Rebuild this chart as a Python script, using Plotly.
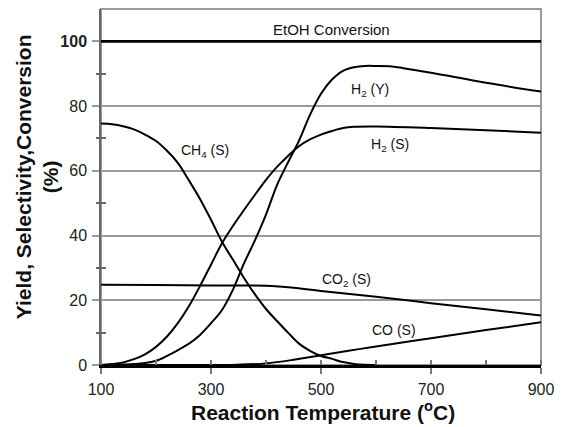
import plotly.graph_objects as go

# ---- data ----
t_etoh = [100, 900]
etoh = [100, 100]

t_ch4 = [100, 120, 140, 160, 180, 200, 220, 240, 260, 280, 300, 320, 340, 360, 380, 400, 420, 440,
         460, 480, 500, 520, 540, 560, 580, 600]
ch4 = [74.6, 74.4, 73.8, 72.8, 71.2, 69.2, 66.2, 62.4, 57.0, 51.3, 44.9, 38.1, 32.5, 26.9, 21.8, 17.3,
       13.6, 10.0, 6.6, 4.4, 2.8, 1.9, 0.9, 0.3, 0.05, 0.0]

t_h2s = [100, 120, 140, 160, 180, 200, 220, 240, 260, 280, 300, 320, 340, 360, 380, 400, 420, 440,
         460, 480, 500, 520, 540, 560, 600, 700, 800, 900]
h2s = [0, 0.3, 0.8, 1.8, 3.3, 5.6, 8.8, 13.0, 18.2, 24.4, 31.0, 37.6, 43.0, 47.9, 52.6, 57.2, 61.2, 64.6,
       67.6, 69.7, 71.2, 72.3, 73.2, 73.6, 73.7, 73.2, 72.5, 71.8]

t_h2y = [100, 120, 140, 160, 180, 200, 220, 240, 260, 280, 300, 320, 340, 360, 380, 400, 420, 440,
         460, 480, 500, 520, 540, 560, 580, 600, 625, 650, 700, 800, 900]
h2y = [0, 0.05, 0.15, 0.3, 0.6, 1.3, 2.8, 4.6, 6.6, 9.3, 12.9, 17.0, 23.3, 31.4, 38.6, 46.5, 55.6, 62.6,
       69.3, 77.3, 83.8, 88.2, 90.9, 92.0, 92.4, 92.4, 92.3, 91.7, 90.3, 87.2, 84.5]

t_co2 = [100, 200, 300, 400, 450, 500, 600, 700, 800, 900]
co2 = [24.8, 24.7, 24.6, 24.5, 23.9, 22.9, 21.1, 19.1, 17.2, 15.3]

t_co = [100, 300, 350, 400, 450, 500, 550, 600, 700, 800, 900]
co = [0, 0, 0.1, 0.5, 1.6, 3.0, 4.4, 5.7, 8.3, 10.8, 13.2]

x_ticks = [100, 300, 500, 700, 900]
y_ticks = [0, 20, 40, 60, 80, 100]
y_ticktext = ["0", "20", "40", "60", "80", "<b>100</b>"]
y_minor = [10, 30, 50, 70, 90]

labels = [
    ("EtOH Conversion", 519, 103.6),
    ("H<sub>2</sub> (Y)", 589, 85.0),
    ("H<sub>2</sub> (S)", 625, 67.9),
    ("CH<sub>4</sub> (S)", 289, 66.0),
    ("CO<sub>2</sub> (S)", 546, 26.2),
    ("CO (S)", 633, 10.9),
]

FONT = "Liberation Sans, Arial, sans-serif"

fig = go.Figure()
series = [(t_etoh, etoh, 2.6, "linear"), (t_ch4, ch4, 2, "spline"), (t_h2s, h2s, 2, "spline"),
          (t_h2y, h2y, 2, "spline"), (t_co2, co2, 2, "spline"), (t_co, co, 2, "spline")]
for xs, ys, w, shp in series:
    fig.add_trace(go.Scatter(x=xs, y=ys, mode="lines",
                             line=dict(color="black", width=w, shape=shp, smoothing=1.0),
                             showlegend=False, hoverinfo="skip"))

# invisible trace to activate the overlay axis for crossing minor ticks
fig.add_trace(go.Scatter(x=[100], y=[0], yaxis="y2", mode="markers",
                         marker=dict(opacity=0), showlegend=False, hoverinfo="skip"))

for i, (txt, x, y) in enumerate(labels):
    fig.add_annotation(x=x, y=y, text=txt, showarrow=False,
                       font=dict(family=FONT, size=15 if i == 0 else 14, color="#111"))

fig.add_annotation(xref="paper", yref="paper", x=-0.145, y=0.528,
                   text="<b>Yield, Selectivity,Conversion<br>(%)</b>",
                   textangle=-90, showarrow=False, font=dict(family=FONT, size=21, color="#111"),
                   xanchor="center", yanchor="middle")
fig.add_annotation(xref="paper", yref="paper", x=0.505, y=-0.128,
                   text="<b>Reaction Temperature (<sup>o</sup>C)</b>",
                   showarrow=False, font=dict(family=FONT, size=21, color="#111"),
                   xanchor="center", yanchor="middle")

fig.add_shape(type="rect", xref="paper", yref="paper", x0=0, x1=1, y0=0, y1=1,
              line=dict(color="#9a9a9a", width=2), layer="below")

fig.update_layout(
    width=563, height=427,
    margin=dict(l=101, r=18, t=9, b=62),
    paper_bgcolor="white", plot_bgcolor="white",
    font=dict(family=FONT, color="#111"),
    xaxis=dict(range=[100, 900], tickvals=x_ticks, ticks="outside", ticklen=6, tickcolor="#777",
               tickwidth=1.5, showgrid=False, zeroline=False, showline=True, linecolor="black",
               linewidth=2.5, tickfont=dict(size=16, family=FONT, color="#222"),
               minor=dict(dtick=100, tick0=100, ticks="inside", ticklen=5, tickcolor="#777", tickwidth=1.5),
               ticklabelstandoff=2),
    yaxis=dict(range=[0, 110], tickvals=y_ticks, ticktext=y_ticktext, ticks="outside", ticklen=7,
               tickcolor="#9a9a9a", tickwidth=2, showgrid=True, gridcolor="#9a9a9a", gridwidth=2,
               zeroline=False, showline=True, linecolor="#666", linewidth=1.5,
               tickfont=dict(size=16, family=FONT, color="#222"), ticklabelstandoff=2,
               minor=dict(tickvals=y_minor, ticks="inside", ticklen=5, tickcolor="#666", tickwidth=1.5)),
    yaxis2=dict(range=[0, 110], overlaying="y", side="left", tickvals=y_minor, ticks="outside",
                ticklen=4, tickcolor="#666", tickwidth=1.5, showticklabels=False, showgrid=False,
                zeroline=False, showline=False),
)

fig.write_html("out.html")
